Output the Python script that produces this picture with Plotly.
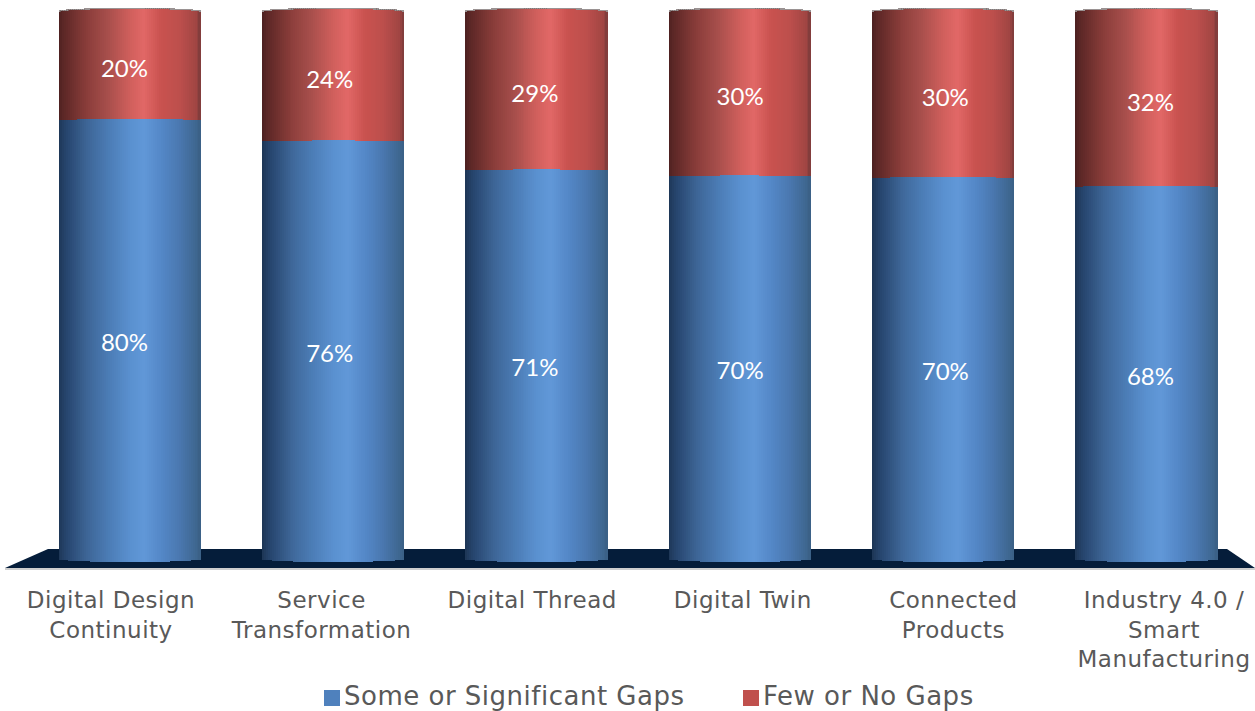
import plotly.graph_objects as go

categories = ["Digital Design Continuity", "Service Transformation", "Digital Thread",
              "Digital Twin", "Connected Products", "Industry 4.0 / Smart Manufacturing"]
tick_labels = ["Digital Design<br>Continuity", "Service<br>Transformation", "Digital Thread",
               "Digital Twin", "Connected<br>Products", "Industry 4.0 /<br>Smart<br>Manufacturing"]
few_gaps = [19.8, 23.7, 29.0, 30.1, 30.4, 32.0]
some_gaps = [80.2, 76.3, 71.0, 69.9, 69.6, 68.0]

RED_STOPS = [(0, "#4a2020"), (.03, "#5a2625"), (.2, "#8a3d3a"), (.35, "#a84f4c"), (.5, "#d05f5c"),
             (.6, "#e26867"), (.72, "#c9524f"), (.85, "#bd4f4c"), (.97, "#a04543"), (1, "#7a3a3a")]
BLUE_STOPS = [(0, "#1d3554"), (.05, "#25436b"), (.2, "#3d6596"), (.35, "#4b7cb5"), (.5, "#5a90cf"),
              (.6, "#6198d8"), (.72, "#5488c8"), (.85, "#4a78b0"), (.97, "#3e668f"), (1, "#3a5f85")]

W, H = 1255, 711
PL, PR, PB = 28, 1248, 575          # plot area in pixels
UNIT = 100 / 547                    # axis units per pixel
BAR_W = 0.70
N = 72
TOP_SAG, MID_SAG, BASE_SAG = 3 * UNIT, 1.2 * UNIT, 3 * UNIT


def hex2rgb(c):
    return tuple(int(c[i:i + 2], 16) for i in (1, 3, 5))


def shade(stops, t):
    for (a, ca), (b, cb) in zip(stops, stops[1:]):
        if a <= t <= b:
            f = (t - a) / (b - a)
            r = [round(p + (q - p) * f) for p, q in zip(hex2rgb(ca), hex2rgb(cb))]
            return f"rgb({r[0]},{r[1]},{r[2]})"
    return stops[-1][1]


def sag(u):
    return max(0.0, 1 - u * u) ** 0.5


xs, offs, wids = [], [], []
blue_b, blue_h, blue_c, red_b, red_h, red_c, rim_b = [], [], [], [], [], [], []
step = BAR_W / N
for cat, blue in zip(categories, some_gaps):
    for k in range(N):
        t = (k + .5) / N
        s = sag(2 * t - 1)
        xs.append(cat)
        offs.append(-BAR_W / 2 + k * step)
        wids.append(step * 1.15 if k < N - 1 else step)
        lo = -BASE_SAG * s
        mid = blue + MID_SAG * s
        hi = 100 + TOP_SAG * s
        blue_b.append(lo); blue_h.append(mid - lo); blue_c.append(shade(BLUE_STOPS, t))
        red_b.append(mid); red_h.append(hi - mid); red_c.append(shade(RED_STOPS, t))
        rim_b.append(hi)

fig = go.Figure()
fig.add_trace(go.Bar(x=xs, y=blue_h, base=blue_b, offset=offs, width=wids, marker=dict(color=blue_c, line_width=0),
                     showlegend=False, hoverinfo="skip"))
fig.add_trace(go.Bar(x=xs, y=red_h, base=red_b, offset=offs, width=wids, marker=dict(color=red_c, line_width=0),
                     showlegend=False, hoverinfo="skip"))
fig.add_trace(go.Bar(x=xs, y=[0.22] * len(xs), base=rim_b, offset=offs, width=wids,
                     marker=dict(color="rgba(120,110,110,0.75)", line_width=0), showlegend=False, hoverinfo="skip"))

label_font = dict(family="Lato", size=24, color="white")
idx = list(range(len(categories)))
fig.add_trace(go.Scatter(x=idx, y=[v / 2 - 5.5 * UNIT for v in some_gaps], xaxis="x3", mode="text",
                         text=[f"{round(v)}%" for v in some_gaps], textfont=label_font,
                         showlegend=False, hoverinfo="skip"))
fig.add_trace(go.Scatter(x=idx, y=[b + r / 2 - 5 * UNIT for b, r in zip(some_gaps, few_gaps)], xaxis="x3", mode="text",
                         text=[f"{round(v)}%" for v in few_gaps], textfont=label_font,
                         showlegend=False, hoverinfo="skip"))
# invisible trace that carries the tick-label axis
fig.add_trace(go.Scatter(x=idx, y=[0] * len(idx), xaxis="x2", mode="markers",
                         marker=dict(opacity=0), showlegend=False, hoverinfo="skip"))
# legend entries
for name, col in (("Some or Significant Gaps", "#4f81bd"), ("Few or No Gaps", "#c0504d")):
    fig.add_trace(go.Scatter(x=[None], y=[None], xaxis="x2", mode="markers", name=name,
                             marker=dict(symbol="square", size=16, color=col)))


def px(x):
    return (x - PL) / (PR - PL)


def py(y):
    return (PB - y) / PB


floor = "M {} {} L {} {} L {} {} L {} {} Z".format(px(5), py(568), px(48), py(549), px(1227), py(549), px(1255), py(568))
fig.update_layout(
    width=W, height=H, autosize=False,
    margin=dict(l=PL, r=W - PR, t=0, b=H - PB, autoexpand=False),
    paper_bgcolor="white", plot_bgcolor="rgba(0,0,0,0)",
    barmode="overlay", bargap=0,
    font=dict(family="DejaVu Sans", color="#595959"),
    xaxis=dict(type="category", categoryorder="array", categoryarray=categories, range=[-0.5, 5.5],
               showticklabels=False, showgrid=False, zeroline=False, showline=False, ticks=""),
    xaxis2=dict(overlaying="x", anchor="y", side="bottom", type="linear",
                range=[(PL - 111) / 210.6, (PR - 111) / 210.6],
                tickmode="array", tickvals=idx, ticktext=tick_labels,
                tickfont=dict(family="DejaVu Sans", size=23, color="#595959"),
                ticks="outside", ticklen=4, tickcolor="rgba(0,0,0,0)", showgrid=False, zeroline=False, showline=False),
    xaxis3=dict(overlaying="x", anchor="y", type="linear", visible=False,
                range=[(PL - 124.5) / 205.2, (PR - 124.5) / 205.2]),
    yaxis=dict(range=[-(PB - 559) * UNIT, 100 + 12 * UNIT], showticklabels=False, showgrid=False, zeroline=False,
               showline=False, ticks=""),
    legend=dict(orientation="h", xref="container", yref="container", x=304 / W, y=1 - 695 / H,
                xanchor="left", yanchor="middle", entrywidth=374, entrywidthmode="pixels",
                font=dict(family="DejaVu Sans", size=26, color="#595959"), bgcolor="rgba(0,0,0,0)"),
    shapes=[
        dict(type="rect", xref="paper", yref="paper", x0=px(5), x1=px(1255), y0=py(570), y1=py(568),
             fillcolor="#cfcfcf", line_width=0, layer="below"),
        dict(type="path", xref="paper", yref="paper", path=floor, fillcolor="#051d3a", line_width=0, layer="below"),
    ],
)
post = ("document.body.style.margin='0';document.documentElement.style.overflow='hidden';"
        "var s=document.createElement('style');"
        "s.textContent='.xtick text,.x2tick text{letter-spacing:.5px}"
        ".legendtext{letter-spacing:.5px}"
        ".legend .legendsymbols{transform:translate(8px,3px)}';"
        "document.head.appendChild(s);")
fig.write_html("out.html", post_script=post, config=dict(displayModeBar=False))
